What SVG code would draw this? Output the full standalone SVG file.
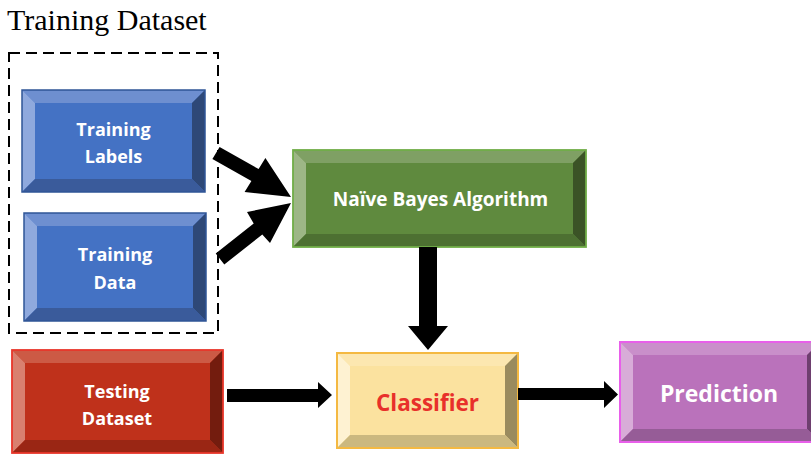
<svg xmlns="http://www.w3.org/2000/svg" width="811" height="455" viewBox="0 0 811 455">
<style>
.t{font-family:"Open Sans","Liberation Sans",sans-serif;font-weight:bold;text-anchor:middle;dominant-baseline:central}
.w{fill:#ffffff}
.arr{fill:#000000}
</style>
<rect width="811" height="455" fill="#ffffff"/>
<text x="7" y="30" font-family="Liberation Serif, serif" font-size="30" fill="#000">Training Dataset</text>
<rect x="9" y="53" width="209" height="280" fill="none" stroke="#000" stroke-width="2" stroke-dasharray="11,6"/>

<g id="training-labels">
<rect x="22" y="90" width="183" height="102" fill="#4472C4"/>
<polygon points="22,90 205,90 192,103 35,103" fill="#6E8FD0"/>
<polygon points="22,90 35,103 35,179 22,192" fill="#8FA9DD"/>
<polygon points="205,90 205,192 192,179 192,103" fill="#2E4877"/>
<polygon points="22,192 35,179 192,179 205,192" fill="#3A5B9B"/>
<rect x="22" y="90" width="183" height="102" fill="none" stroke="#2F5597" stroke-width="1.5"/>
<text class="t w" x="113.5" y="129" font-size="18">Training</text>
<text class="t w" x="113.5" y="156" font-size="18">Labels</text>
</g>

<g id="training-data">
<rect x="24" y="213" width="182" height="108" fill="#4472C4"/>
<polygon points="24,213 206,213 193,226 37,226" fill="#6E8FD0"/>
<polygon points="24,213 37,226 37,308 24,321" fill="#8FA9DD"/>
<polygon points="206,213 206,321 193,308 193,226" fill="#2E4877"/>
<polygon points="24,321 37,308 193,308 206,321" fill="#3A5B9B"/>
<rect x="24" y="213" width="182" height="108" fill="none" stroke="#2F5597" stroke-width="1.5"/>
<text class="t w" x="115" y="254" font-size="18">Training</text>
<text class="t w" x="115" y="282" font-size="18">Data</text>
</g>

<g id="naive-bayes">
<rect x="293" y="150" width="293" height="97" fill="#5F8A3E"/>
<polygon points="293,150 586,150 573,163 306,163" fill="#7FA064"/>
<polygon points="293,150 306,163 306,234 293,247" fill="#9DB686"/>
<polygon points="586,150 586,247 573,234 573,163" fill="#3B5326"/>
<polygon points="293,247 306,234 573,234 586,247" fill="#4D7032"/>
<rect x="293" y="150" width="293" height="97" fill="none" stroke="#70AD47" stroke-width="1.8"/>
<text class="t w" x="440.5" y="199" font-size="19">Naïve Bayes Algorithm</text>
</g>

<g id="testing-dataset">
<rect x="12" y="350" width="211" height="103" fill="#BF311B"/>
<polygon points="12,350 223,350 210,363 25,363" fill="#CC5A45"/>
<polygon points="12,350 25,363 25,440 12,453" fill="#D9806F"/>
<polygon points="223,350 223,453 210,440 210,363" fill="#731C0E"/>
<polygon points="12,453 25,440 210,440 223,453" fill="#9A2614"/>
<rect x="12" y="350" width="211" height="103" fill="none" stroke="#E8362A" stroke-width="1.8"/>
<text class="t w" x="117" y="391" font-size="18">Testing</text>
<text class="t w" x="117" y="418" font-size="18">Dataset</text>
</g>

<g id="classifier">
<rect x="337" y="353" width="181" height="95" fill="#FBE29F"/>
<polygon points="337,353 518,353 505,366 350,366" fill="#FCE7B0"/>
<polygon points="337,353 350,366 350,435 337,448" fill="#FEF2D2"/>
<polygon points="518,353 518,448 505,435 505,366" fill="#9A8B5E"/>
<polygon points="337,448 350,435 505,435 518,448" fill="#CBB87F"/>
<rect x="337" y="353" width="181" height="95" fill="none" stroke="#F4B942" stroke-width="2"/>
<text class="t" x="427.5" y="402" font-size="22.5" fill="#E8302A">Classifier</text>
</g>

<g id="prediction">
<rect x="620" y="342" width="200" height="100" fill="#BA72BB"/>
<polygon points="620,342 820,342 807,355 633,355" fill="#C98FCA"/>
<polygon points="620,342 633,355 633,429 620,442" fill="#D8ACD8"/>
<polygon points="820,342 820,442 807,429 807,355" fill="#6E3F6F"/>
<polygon points="620,442 633,429 807,429 820,442" fill="#965C97"/>
<rect x="620" y="342" width="200" height="100" fill="none" stroke="#E85FEA" stroke-width="2"/>
<text class="t w" x="719" y="393" font-size="23">Prediction</text>
</g>

<g id="connectors">
<polygon class="arr" points="219.6,147 258.6,169 265.4,158 291,197 244.6,192 251.4,181 212.4,159"/>
<polygon class="arr" points="215.7,253.5 253.7,223.5 247,212 291,203 270,243 262.3,234.5 224.3,264.5"/>
<polygon class="arr" points="419,247 437,247 437,326 448,326 428,350 408,326 419,326"/>
<polygon class="arr" points="227,389 318,389 318,382 332,395 318,408 318,402 227,402"/>
<polygon class="arr" points="518,388 604,388 604,381 618,394.5 604,408 604,400 518,400"/>
</g>
</svg>
